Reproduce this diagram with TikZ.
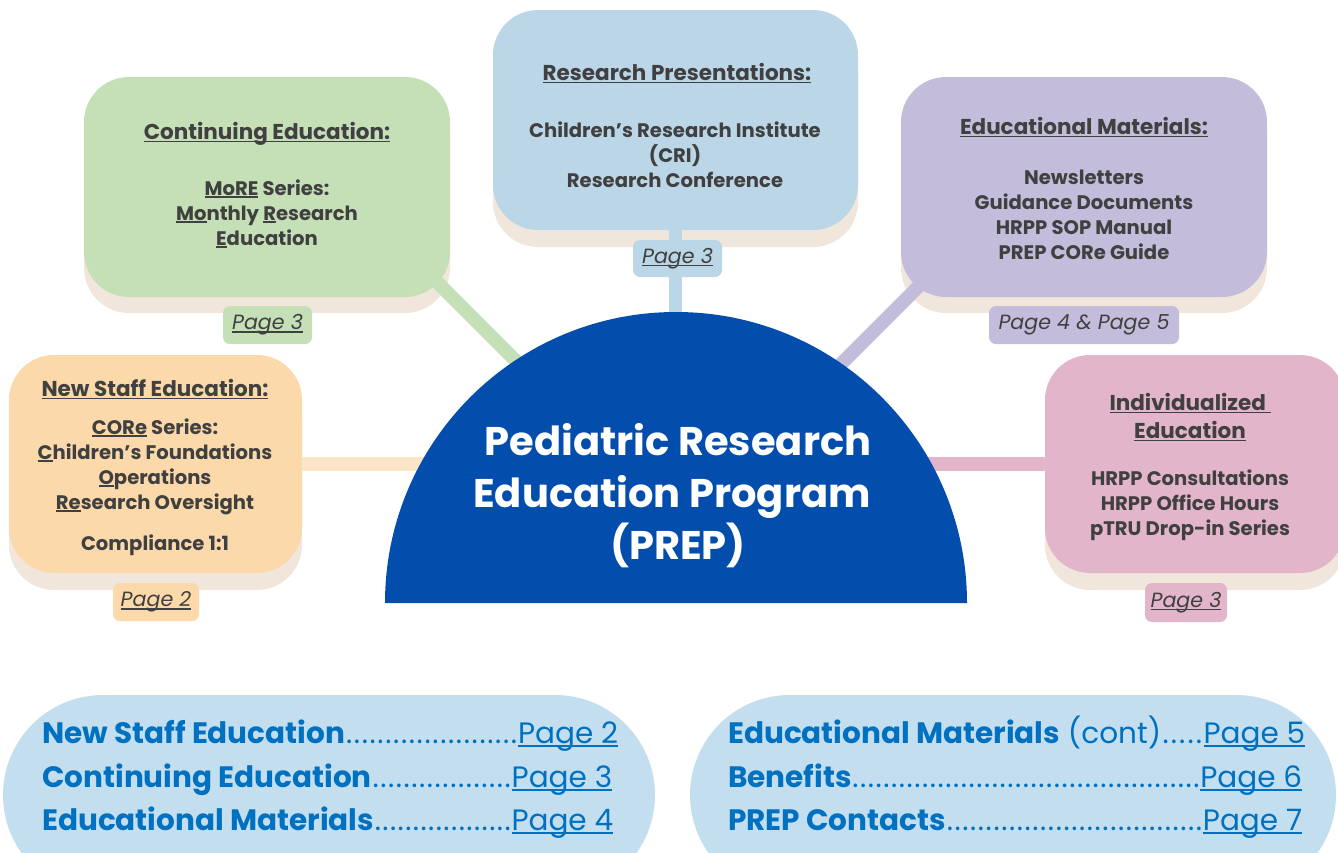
\documentclass[tikz,border=0pt]{standalone}
\usepackage{fontspec}
\setmainfont{Poppins}
\definecolor{txt}{HTML}{404040}
\definecolor{shad}{HTML}{F0E6DC}
\definecolor{orng}{HTML}{FCD9AB}
\definecolor{orngl}{HTML}{FDE5C8}
\definecolor{grn}{HTML}{C5DFB7}
\definecolor{blu}{HTML}{BBD7E7}
\definecolor{purp}{HTML}{C3BCDB}
\definecolor{pnk}{HTML}{E3B5CA}
\definecolor{dome}{HTML}{034DAD}
\definecolor{pill}{HTML}{C3DEEE}
\definecolor{pilltxt}{HTML}{0070C0}
\newcommand{\dotlead}{\xleaders\hbox to 7.6pt{\hss.\hss}\hfill}
\newcommand{\myul}[1]{\setbox0\hbox{#1}\rlap{\rule[-0.14em]{\wd0}{0.065em}}\box0\relax}
\begin{document}
\begin{tikzpicture}[x=1pt,y=-1pt,
  conn/.style={line width=13.5pt},
  shadowbox/.style={fill=shad,rounded corners=45pt},
  bigbox/.style={rounded corners=45pt,inner sep=0pt},
  boxline/.style={anchor=base,inner sep=0pt,text=txt,font=\fontsize{19.6}{23}\selectfont\bfseries},
  boxhead/.style={boxline,font=\fontsize{21.5}{25}\selectfont\bfseries},
  pagelab/.style={rounded corners=7pt,inner sep=0pt,text=txt,font=\fontsize{20.6}{24}\selectfont\itshape},
  title/.style={anchor=base,inner sep=0pt,text=white,font=\fontsize{40}{48}\selectfont\bfseries},
  pillline/.style={anchor=base west,inner sep=0pt,text=pilltxt,font=\fontsize{29.5}{35}\selectfont}
]
\useasboundingbox (0,0) rectangle (1338,852);
\clip (0,0) rectangle (1338,852);

% bottom pills
\fill[pill,rounded corners=100pt] (3,695) rectangle (655,895);
\fill[pill,rounded corners=100pt] (690,695) rectangle (1336,895);
\node[pillline] (l1) at (42,743) {\makebox[576pt][l]{\textbf{New Staff Education}\dotlead\myul{Page 2}}};
\node[pillline] (l2) at (42,787) {\makebox[570pt][l]{\textbf{Continuing Education}\dotlead\myul{Page 3}}};
\node[pillline] (l3) at (42,830) {\makebox[571pt][l]{\textbf{Educational Materials}\dotlead\myul{Page 4}}};
\node[pillline] (r1) at (728,743) {\makebox[577pt][l]{\textbf{Educational Materials} (cont)\dotlead\myul{Page 5}}};
\node[pillline] (r2) at (728,787) {\makebox[574pt][l]{\textbf{Benefits}\dotlead\myul{Page 6}}};
\node[pillline] (r3) at (728,830) {\makebox[574pt][l]{\textbf{PREP Contacts}\dotlead\myul{Page 7}}};

% shadows
\fill[shadowbox] (9,372) rectangle (302,590);
\fill[shadowbox] (84,94) rectangle (450,313);
\fill[shadowbox] (493,27) rectangle (858,247);
\fill[shadowbox] (901,94) rectangle (1267,313);
\fill[shadowbox] (1045,372) rectangle (1345,590);

% boxes
\node[bigbox,fill=orng,minimum width=293pt,minimum height=218pt] (nsbox) at (155.5,464) {};
\node[bigbox,fill=grn,minimum width=366pt,minimum height=220pt] (cebox) at (267,187) {};
\node[bigbox,fill=blu,minimum width=365pt,minimum height=220pt] (rpbox) at (675.5,120) {};
\node[bigbox,fill=purp,minimum width=366pt,minimum height=220pt] (embox) at (1084,187) {};
\node[bigbox,fill=pnk,minimum width=300pt,minimum height=218pt] (iebox) at (1195,464) {};

% connectors
\coordinate (domec) at (676,603);
\coordinate (gA) at (425,270);
\coordinate (gB) at (530,375);
\coordinate (pA) at (930,275);
\coordinate (pB) at (825,380);
\draw[conn,orngl] (nsbox.east) -- (nsbox.east -| domec);
\draw[conn,pnk] (iebox.west) -- (iebox.west -| domec);
\draw[conn,grn] (gA) -- (gB);
\draw[conn,purp] (pA) -- (pB);
\draw[conn,blu] (rpbox.south) -- (rpbox.south |- domec);

% page labels
\node[pagelab,fill=orng,minimum width=86pt,minimum height=38pt] (p2) at (156,602) {\myul{Page 2}};
\node[pagelab,fill=grn,minimum width=89pt,minimum height=38pt] (p3a) at (267.5,325) {\myul{Page 3}};
\node[pagelab,fill=blu,minimum width=89pt,minimum height=37pt] (p3b) at (677.5,258.5) {\myul{Page 3}};
\node[pagelab,fill=purp,minimum width=190pt,minimum height=38pt] (p45) at (1084,325) {Page 4 \& Page 5};
\node[pagelab,fill=pnk,minimum width=82pt,minimum height=39pt] (p3c) at (1186,602.5) {\myul{Page 3}};

% dome
\fill[dome] (385,603) arc[start angle=180,end angle=0,radius=291pt] -- cycle;
\node[title] (t1) at (678,455) {Pediatric Research};
\node[title] (t2) at (672,507) {Education Program};
\node[title] (t3) at (678,559) {(PREP)};

% box texts: new staff
\node[boxhead] (ns1) at (155,396) {\myul{New Staff Education:}};
\node[boxline] (ns2) at (155,434) {\myul{CORe} Series:};
\node[boxline] (ns3) at (155,459) {\myul{C}hildren’s Foundations};
\node[boxline] (ns4) at (155,484) {\myul{O}perations};
\node[boxline] (ns5) at (155,509) {\myul{Re}search Oversight};
\node[boxline] (ns6) at (155,550) {Compliance 1:1};
% continuing
\node[boxhead] (ce1) at (267,139) {\myul{Continuing Education:}};
\node[boxline] (ce2) at (267,195) {\myul{MoRE} Series:};
\node[boxline] (ce3) at (267,220) {\myul{Mo}nthly \myul{R}esearch};
\node[boxline] (ce4) at (267,245) {\myul{E}ducation};
% research presentations
\node[boxhead] (rp1) at (677,80) {\myul{Research Presentations:}};
\node[boxline] (rp2) at (675,137) {Children’s Research Institute};
\node[boxline] (rp3) at (675,162) {(CRI)};
\node[boxline] (rp4) at (675,187) {Research Conference};
% educational materials
\node[boxhead] (em1) at (1084,134) {\myul{Educational Materials:}};
\node[boxline] (em2) at (1084,184) {Newsletters};
\node[boxline] (em3) at (1084,209) {Guidance Documents};
\node[boxline] (em4) at (1084,234) {HRPP SOP Manual};
\node[boxline] (em5) at (1084,259) {PREP CORe Guide};
% individualized
\node[boxhead] (ie1) at (1190,410) {\myul{Individualized\ }};
\node[boxhead] (ie2) at (1190,438) {\myul{Education}};
\node[boxline] (ie3) at (1190,485) {HRPP Consultations};
\node[boxline] (ie4) at (1190,510) {HRPP Office Hours};
\node[boxline] (ie5) at (1190,535) {pTRU Drop-in Series};
\end{tikzpicture}
\end{document}
